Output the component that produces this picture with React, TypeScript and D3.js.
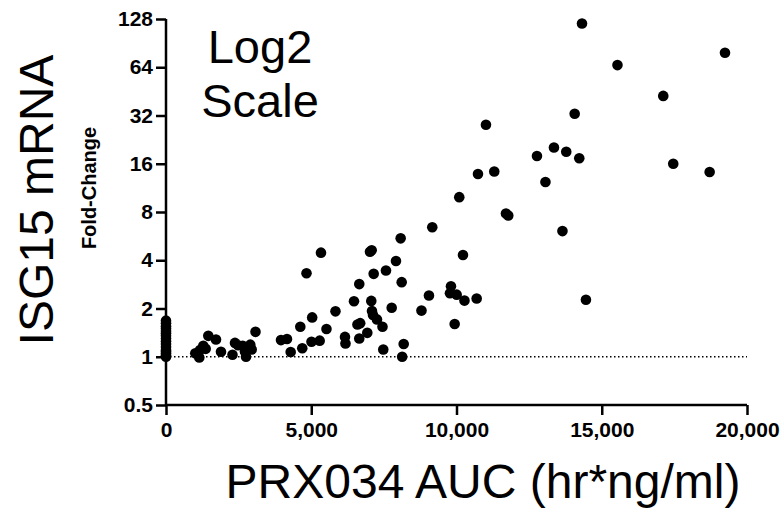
import { useEffect, useRef } from "react";
import * as d3 from "d3";

// PRX034 AUC (hr*ng/ml) vs ISG15 mRNA fold-change
const aucValues = [
  0, 0, 0, 0, 0, 0, 0, 0, 0, 0, 0, 0, 0, 0, 0, 0,
  1008, 1146, 1170, 1284, 1366, 1456, 1721, 1893,
  2289, 2375, 2478, 2640, 2719, 2754, 2902, 2950, 3081,
  3958, 4165, 4292, 4623, 4691, 4836, 5008, 5032, 5290, 5335, 5524, 5834,
  6161, 6178, 6471, 6591, 6653, 6653, 6684, 6929, 7022, 7066, 7080, 7091, 7125, 7149,
  7263, 7452, 7479, 7572, 7769, 7917, 8078, 8113, 8130, 8182,
  8794, 9052, 9166, 9775, 9810, 9937, 10006, 10095, 10223, 10274, 10694, 10739,
  11014, 11300, 11703, 11782, 12770, 13062, 13355, 13647, 13778, 14068, 14226,
  14320, 14456, 15541, 17117, 17461, 18714, 19242,
];

const foldChange = [
  1.0, 1.02, 1.05, 1.08, 1.1, 1.15, 1.2, 1.25, 1.3, 1.35, 1.4, 1.45, 1.5, 1.55, 1.62, 1.68,
  1.05, 0.99, 1.1, 1.17, 1.12, 1.35, 1.28, 1.075,
  1.03, 1.22, 1.18, 1.17, 1.08, 1.0, 1.19, 1.11, 1.43,
  1.27, 1.29, 1.07, 1.54, 1.13, 3.32, 1.24, 1.76, 1.26, 4.46, 1.49, 1.92,
  1.33, 1.21, 2.22, 1.59, 2.84, 1.3, 1.62, 1.41, 4.52, 2.23, 4.61, 1.93, 1.82, 3.29,
  1.71, 1.54, 1.11, 3.45, 2.02, 3.96, 5.48, 2.92, 1.0, 1.2,
  1.94, 2.41, 6.42, 2.49, 2.75, 1.6, 2.44, 9.9, 4.31, 2.24, 2.31, 13.8,
  28.0, 14.3, 7.82, 7.6, 17.9, 12.3, 20.2, 6.08, 19.0, 32.8, 17.3,
  120, 2.27, 66, 42.4, 16.0, 14.2, 78.8,
];

const xTicks = [0, 5000, 10000, 15000, 20000];
const yTicks = [0.5, 1, 2, 4, 8, 16, 32, 64, 128];

const width = 784;
const height = 512;
const font = "'Liberation Sans', Arial, Helvetica, sans-serif";

export default function App() {
  const ref = useRef<SVGSVGElement>(null);

  useEffect(() => {
    const svg = d3.select(ref.current);
    svg.selectAll("*").remove();

    const x = d3.scaleLinear().domain([0, 20000]).range([166, 747]);
    const y = d3.scaleLog().base(2).domain([0.5, 128]).range([405, 19]);

    const data = aucValues.map((a, i) => ({ a, f: foldChange[i] }));

    // baseline at fold-change 1
    svg
      .append("line")
      .attr("x1", x(0))
      .attr("x2", x(20000))
      .attr("y1", y(1))
      .attr("y2", y(1))
      .attr("stroke", "#000")
      .attr("stroke-width", 1.5)
      .attr("stroke-dasharray", "1.5,2.5");

    const xAxis = svg
      .append("g")
      .attr("transform", `translate(0,${y(0.5)})`)
      .call(
        d3
          .axisBottom(x)
          .tickValues(xTicks)
          .tickSize(10)
          .tickPadding(7)
          .tickFormat(d3.format(",")),
      );

    const yAxis = svg
      .append("g")
      .attr("transform", `translate(${x(0)},0)`)
      .call(
        d3
          .axisLeft(y)
          .tickValues(yTicks)
          .tickSize(10)
          .tickPadding(3)
          .tickFormat((d) => String(d)),
      );

    [xAxis, yAxis].forEach((g) => {
      g.selectAll(".tick line").attr("stroke-width", 2.5);
      g.selectAll("text")
        .attr("font-family", font)
        .attr("font-weight", "bold")
        .attr("font-size", 21)
        .attr("fill", "#000");
    });
    xAxis
      .select(".domain")
      .attr("stroke-width", 2.5)
      .attr("d", `M${x(0)},0H${x(20000)}`);
    yAxis
      .select(".domain")
      .attr("stroke-width", 2.5)
      .attr("d", `M0,${y(0.5)}V${y(128)}`);

    svg
      .append("g")
      .selectAll("circle")
      .data(data)
      .join("circle")
      .attr("cx", (d) => x(d.a))
      .attr("cy", (d) => y(d.f))
      .attr("r", 5.3)
      .attr("fill", "#000");

    svg
      .append("text")
      .attr("x", 260)
      .attr("y", 63)
      .attr("text-anchor", "middle")
      .attr("font-family", font)
      .attr("font-size", 47)
      .text("Log2");
    svg
      .append("text")
      .attr("x", 260)
      .attr("y", 117)
      .attr("text-anchor", "middle")
      .attr("font-family", font)
      .attr("font-size", 47)
      .text("Scale");

    svg
      .append("text")
      .attr("transform", "translate(53,200) rotate(-90)")
      .attr("text-anchor", "middle")
      .attr("font-family", font)
      .attr("font-size", 48)
      .text("ISG15 mRNA");

    svg
      .append("text")
      .attr("transform", "translate(96,188) rotate(-90)")
      .attr("text-anchor", "middle")
      .attr("font-family", font)
      .attr("font-weight", "bold")
      .attr("font-size", 20)
      .text("Fold-Change");

    svg
      .append("text")
      .attr("x", 483)
      .attr("y", 498)
      .attr("text-anchor", "middle")
      .attr("font-family", font)
      .attr("font-size", 48)
      .text("PRX034 AUC (hr*ng/ml)");
  }, []);

  return (
    <svg
      ref={ref}
      width={width}
      height={height}
      style={{ position: "absolute", left: 0, top: 0, background: "#fff" }}
    />
  );
}
